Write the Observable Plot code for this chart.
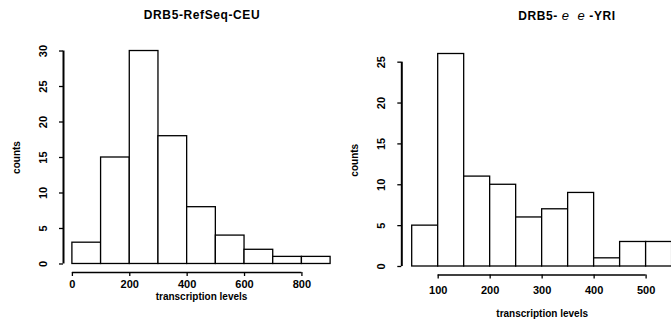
<!DOCTYPE html>
<html>
<head>
<meta charset="utf-8">
<script src="https://cdn.jsdelivr.net/npm/d3@7"></script>
<script src="https://cdn.jsdelivr.net/npm/@observablehq/plot@0.6"></script>
<style>
  html, body { margin: 0; padding: 0; background: #fff; overflow: hidden; }
  #wrap { position: relative; width: 671px; height: 335px; overflow: hidden; font-family: "Liberation Sans", Arial, sans-serif; color: #000; }
  .panel { position: absolute; top: 0; }
  .panel svg { max-width: none !important; height: 335px !important; display: block; }
  .title { position: absolute; top: 8px; font-weight: bold; font-size: 12px; letter-spacing: 0.6px; white-space: nowrap; transform: translateX(-50%); }
  .title i { font-weight: normal; font-size: 13px; }
</style>
</head>
<body>
<div id="wrap">
  <div class="panel" id="left" style="left:0px;width:340px"></div>
  <div class="panel" id="right" style="left:330px;width:360px"></div>
  <div class="title" style="left:202px">DRB5-RefSeq-CEU</div>
  <div class="title" style="left:567px">DRB5- <i>e</i>&nbsp; <i>e</i> -YRI</div>
</div>
<script>
// ---- data ----
const ceuBreaks = [0, 100, 200, 300, 400, 500, 600, 700, 800, 900];
const ceuCounts = [3, 15, 30, 18, 8, 4, 2, 1, 1];
const ceuXTicks = [0, 200, 400, 600, 800];
const ceuYTicks = [0, 5, 10, 15, 20, 25, 30];

const yriBreaks = [50, 100, 150, 200, 250, 300, 350, 400, 450, 500, 550];
const yriCounts = [5, 26, 11, 10, 6, 7, 9, 1, 3, 3];
const yriXTicks = [100, 200, 300, 400, 500];
const yriYTicks = [0, 5, 10, 15, 20, 25];

const yLabel = "counts";
const xLabel = "transcription levels";

function bins(breaks, counts) {
  return counts.map((n, i) => ({x0: breaks[i], x1: breaks[i + 1], n}));
}

function panel(o) {
  const data = bins(o.breaks, o.counts);
  return Plot.plot({
    width: o.width,
    height: 335,
    marginLeft: o.marginLeft,
    marginRight: o.marginRight,
    marginTop: o.marginTop,
    marginBottom: o.marginBottom,
    style: {fontFamily: "'Liberation Sans', Arial, sans-serif", color: "#000", background: "transparent", overflow: "visible"},
    x: {domain: o.xDomain},
    y: {domain: o.yDomain},
    marks: [
      Plot.rect(data, {x1: "x0", x2: "x1", y1: () => 0, y2: "n", fill: "white", stroke: "#000", strokeWidth: 1.3}),
      Plot.ruleX([o.xDomain[0]], {y1: o.yTicks[0], y2: o.yTicks[o.yTicks.length - 1], stroke: "#000", strokeWidth: 2}),
      Plot.axisY({ticks: o.yTicks, tickSize: 4, tickFormat: () => "", label: null, strokeWidth: 1.3}),
      Plot.text(o.yTicks, {x: o.xDomain[0], y: d => d, text: d => String(d), rotate: -90, dx: -20, fontSize: 11, fontWeight: "bold", fill: "#000"}),
      Plot.ruleY([o.yDomain[0]], {x1: o.xTicks[0], x2: o.xTicks[o.xTicks.length - 1], stroke: "#000", strokeWidth: 1.3}),
      Plot.axisX({ticks: o.xTicks, tickSize: 4, tickPadding: o.xTickPad, fontSize: 11, fontWeight: "bold", label: null, strokeWidth: 1.3}),
      Plot.text([yLabel], {frameAnchor: "left", dx: -47, rotate: -90, textAnchor: "middle", lineAnchor: "middle", fontSize: 10, fontWeight: "bold", fill: "#000"}),
      Plot.text([xLabel], {frameAnchor: "bottom", dy: o.xLabelDy, textAnchor: "middle", lineAnchor: "middle", fontSize: 10, fontWeight: "bold", fill: "#000"})
    ]
  });
}

document.getElementById("left").appendChild(panel({
  breaks: ceuBreaks, counts: ceuCounts, xTicks: ceuXTicks, yTicks: ceuYTicks,
  width: 340, marginLeft: 63, marginRight: 1, marginTop: 42, marginBottom: 63,
  xDomain: [-31, 931], yDomain: [-1.2, 31.2], xTickPad: 4, xLabelDy: 24
}));

document.getElementById("right").appendChild(panel({
  breaks: yriBreaks, counts: yriCounts, xTicks: yriXTicks, yTicks: yriYTicks,
  width: 360, marginLeft: 71.3, marginRight: 8, marginTop: 45, marginBottom: 60.5,
  xDomain: [30, 570], yDomain: [-1.04, 27.04], xTickPad: 7.5, xLabelDy: 38.5
}));
</script>
</body>
</html>
